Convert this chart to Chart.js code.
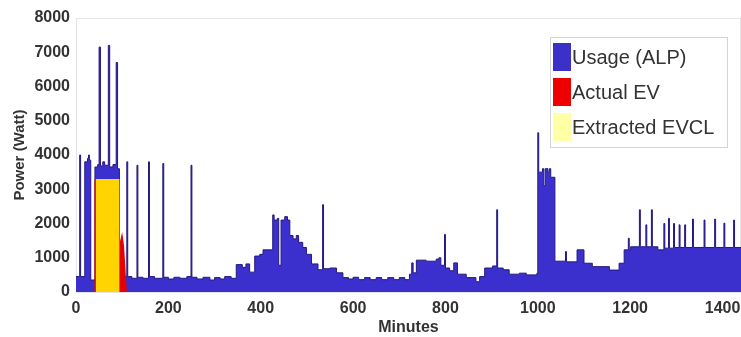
<!DOCTYPE html>
<html>
<head>
<meta charset="utf-8">
<script src="https://cdn.jsdelivr.net/npm/chart.js@4.4.1/dist/chart.umd.min.js"></script>
<style>
  html, body { margin: 0; padding: 0; background: #fff; }
  #wrap { width: 741px; height: 337px; }
</style>
</head>
<body>
<div id="wrap"><canvas id="powerChart" width="741" height="337"></canvas></div>
<script>
// step breakpoints: from each minute on, the usage holds the given watts
const usageMinutes = [
  0, 8, 10, 19, 25, 27, 29, 32, 41, 47, 50, 53, 58, 62, 70, 73, 80, 87, 90, 94,
  110, 112, 121, 132, 134, 145, 157, 159, 170, 188, 190, 200, 212, 225, 240, 249, 251, 262, 275, 290,
  300, 312, 322, 336, 347, 360, 368, 376, 387, 398, 405, 426, 429, 436, 439, 444, 452, 458, 463, 470,
  477, 482, 491, 499, 510, 524, 534, 536, 550, 564, 578, 590, 600, 612, 625, 637, 650, 662, 675, 688,
  700, 712, 722, 727, 730, 737, 758, 780, 786, 790, 798, 800, 809, 818, 826, 845, 866, 874, 885, 902,
  911, 913, 925, 938, 960, 975, 998, 1000, 1002, 1010, 1013, 1016, 1022, 1025, 1028, 1037, 1060, 1062, 1085, 1100,
  1118, 1155, 1176, 1187, 1196, 1198, 1201, 1220, 1222, 1234, 1236, 1246, 1248, 1260, 1273, 1275, 1283, 1285, 1294, 1296,
  1306, 1308, 1318, 1320, 1335, 1337, 1360, 1362, 1383, 1385, 1403, 1405, 1424, 1426, 1440
];
const usageWatts = [
  450, 4000, 450, 3800, 3900, 4000, 3850, 350, 3650, 3720, 7150, 3680, 3800, 3700, 7200, 3650, 3720, 6700, 3600, 450,
  3800, 450, 400, 3700, 430, 400, 3800, 450, 400, 3750, 430, 380, 430, 400, 450, 3700, 430, 380, 430, 350,
  420, 380, 450, 400, 800, 720, 820, 580, 1050, 1100, 1230, 2250, 2100, 2150, 780, 2100, 2200, 2100, 1650, 1550,
  1650, 1450, 1300, 1100, 820, 650, 2550, 680, 700, 560, 420, 380, 430, 360, 420, 360, 420, 360, 420, 360,
  420, 360, 520, 850, 560, 930, 900, 960, 1000, 780, 1680, 700, 620, 850, 520, 420, 300, 450, 700, 760,
  2400, 700, 650, 520, 550, 500, 550, 4650, 3500, 3600, 3100, 3600, 3500, 3600, 3350, 900, 1180, 880, 1230, 840,
  740, 640, 840, 1230, 1570, 1230, 1320, 2400, 1320, 1960, 1320, 2400, 1320, 1230, 2000, 1280, 2150, 1280, 2000, 1300,
  1960, 1300, 1960, 1300, 2130, 1300, 2100, 1300, 2130, 1300, 2010, 1300, 2100, 1300, 1300
];
// EV charging profile, straight segments (repeated minute = vertical edge)
const evMinutes = [0, 40, 40, 94, 94, 100, 104, 107, 110, 1440];
const evWatts = [0, 0, 3300, 3300, 1400, 1750, 1350, 700, 0, 0];
const evclMinutes = [0, 43, 94, 1440];
const evclWatts = [0, 3300, 0, 0];

const seriesLabels = ["Usage (ALP)", "Actual EV", "Extracted EVCL"];
const xTicks = [0, 200, 400, 600, 800, 1000, 1200, 1400];
const yTicks = [0, 1000, 2000, 3000, 4000, 5000, 6000, 7000, 8000];

const fillColors = ["#3b2fce", "#e60000", "#ffd400"];
const legendSwatches = ["#3b30c8", "#ee0000", "#ffffa6"];

const toPoints = (xs, ys) => xs.map((x, i) => ({ x, y: ys[i] }));

Chart.defaults.font.family = "'Liberation Sans', Arial, sans-serif";

// legend box sits inside the plot, top right
const legendBox = {
  id: "legendBox",
  afterDraw(chart) {
    const { ctx } = chart;
    const x = 550, y = 37, w = 177, h = 110;
    ctx.save();
    ctx.fillStyle = "#fff";
    ctx.fillRect(x, y, w, h);
    ctx.strokeStyle = "#d4d4d4";
    ctx.lineWidth = 1;
    ctx.strokeRect(x + 0.5, y + 0.5, w, h);
    ctx.font = "20px 'Liberation Sans', Arial, sans-serif";
    ctx.textBaseline = "middle";
    chart.data.datasets.forEach((ds, i) => {
      const top = y + 6 + i * 35;
      ctx.fillStyle = legendSwatches[i];
      ctx.fillRect(x + 3, top, 18, 28);
      ctx.fillStyle = "#333";
      ctx.fillText(ds.label, x + 22, top + 15);
    });
    ctx.restore();
  }
};

// faint frame round the plot area
const plotFrame = {
  id: "plotFrame",
  beforeDatasetsDraw(chart) {
    const { ctx, chartArea: a } = chart;
    ctx.save();
    ctx.strokeStyle = "#e4e4e4";
    ctx.lineWidth = 1;
    ctx.strokeRect(a.left + 0.5, a.top + 0.5, a.width - 1, a.height);
    ctx.restore();
  }
};

const tickFont = { size: 16, weight: "bold" };
const plainNumber = v => String(v);

new Chart(document.getElementById("powerChart"), {
  type: "line",
  data: {
    datasets: [
      {
        label: seriesLabels[0],
        data: toPoints(usageMinutes, usageWatts),
        stepped: true,
        fill: "origin",
        backgroundColor: fillColors[0],
        borderColor: "#241a80",
        borderWidth: 1,
        pointRadius: 0,
        order: 3
      },
      {
        label: seriesLabels[1],
        data: toPoints(evMinutes, evWatts),
        fill: "origin",
        backgroundColor: fillColors[1],
        borderWidth: 0,
        pointRadius: 0,
        order: 2
      },
      {
        label: seriesLabels[2],
        data: toPoints(evclMinutes, evclWatts),
        stepped: true,
        fill: "origin",
        backgroundColor: fillColors[2],
        borderWidth: 0,
        pointRadius: 0,
        order: 1
      }
    ]
  },
  options: {
    responsive: false,
    animation: false,
    layout: { padding: { top: 18, right: 0, bottom: 0, left: 0 } },
    plugins: { legend: { display: false }, tooltip: { enabled: false } },
    scales: {
      x: {
        type: "linear",
        min: 0,
        max: 1440,
        afterBuildTicks: s => { s.ticks = xTicks.map(v => ({ value: v })); },
        afterFit: s => { s.height = 45; s.paddingRight = 0; },
        grid: { display: false, drawTicks: false },
        border: { display: false },
        ticks: { padding: 7, color: "#333", font: tickFont, maxRotation: 0, callback: plainNumber },
        title: { display: true, text: "Minutes", color: "#333", font: { size: 16, weight: "bold" }, padding: { top: 0, bottom: 0 } }
      },
      y: {
        min: 0,
        max: 8000,
        afterBuildTicks: s => { s.ticks = yTicks.map(v => ({ value: v })); },
        afterFit: s => { s.width = 76; },
        grid: { display: false, drawTicks: false },
        border: { display: false },
        ticks: { padding: 6, color: "#333", font: tickFont, callback: plainNumber },
        title: { display: true, text: "Power (Watt)", color: "#333", font: { size: 15, weight: "bold" }, padding: { top: 11, bottom: 0 } }
      }
    }
  },
  plugins: [plotFrame, legendBox]
});
</script>
</body>
</html>
